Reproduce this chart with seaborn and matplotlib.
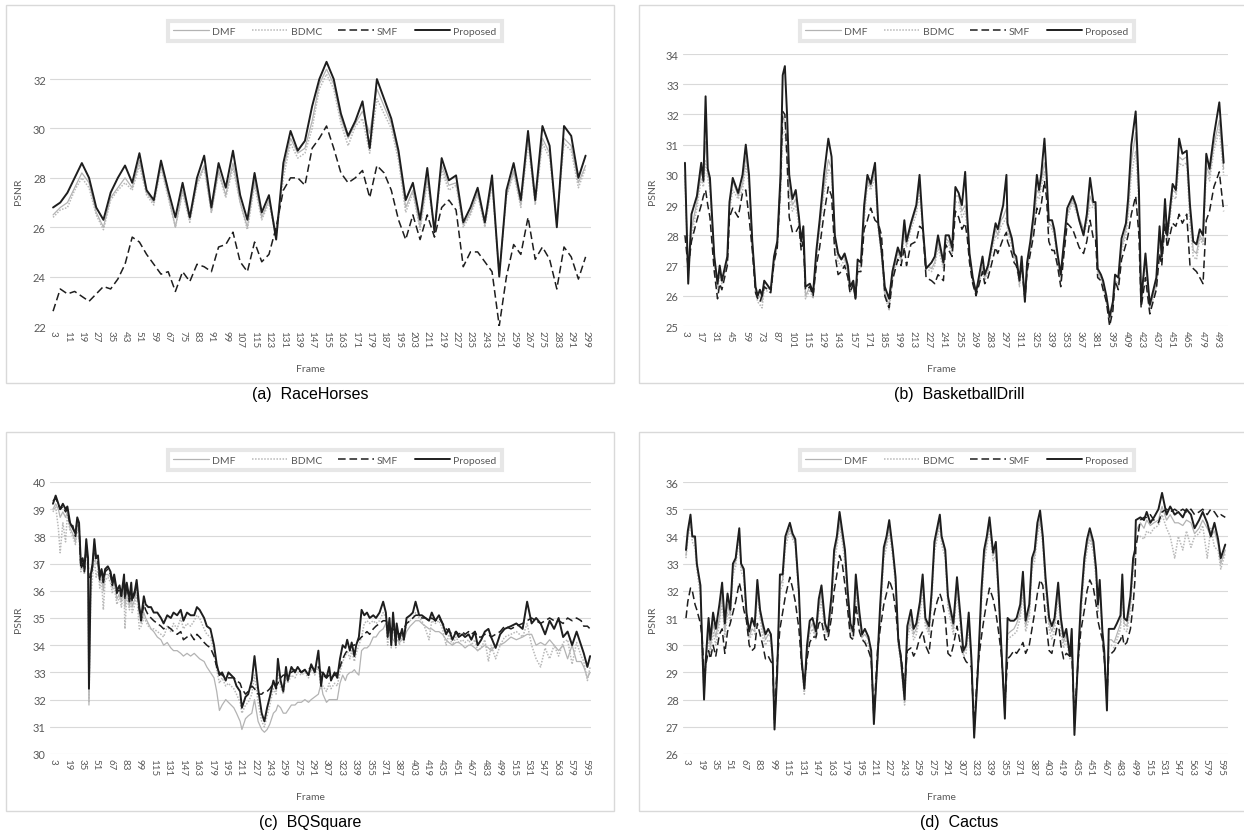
import matplotlib
matplotlib.use("Agg")
import matplotlib.pyplot as plt
import seaborn as sns
from matplotlib.patches import Rectangle
from matplotlib.lines import Line2D

# ---------------- data ----------------
series_names = ["DMF", "BDMC", "SMF", "Proposed"]

# (a) RaceHorses
frames_a = list(range(3, 300, 4))
proposed_a = [26.8, 27.0, 27.4, 28.0, 28.6, 28.0, 26.8, 26.3, 27.4, 28.0,
              28.5, 27.8, 29.0, 27.5, 27.1, 28.7, 27.5, 26.4, 27.8, 26.4,
              28.0, 28.9, 26.8, 28.6, 27.6, 29.1, 27.3, 26.3, 28.2, 26.6,
              27.3, 25.5, 28.6, 29.9, 29.1, 29.5, 30.9, 32.0, 32.7, 32.0,
              30.6, 29.7, 30.3, 31.1, 29.2, 32.0, 31.2, 30.4, 29.1, 27.1,
              27.8, 26.3, 28.4, 25.8, 28.8, 27.9, 28.1, 26.2, 26.8, 27.6,
              26.2, 28.1, 24.0, 27.5, 28.6, 27.1, 29.9, 27.1, 30.1, 29.3,
              26.0, 30.1, 29.7, 28.0, 28.9]
dmf_a = [26.5, 26.8, 27.0, 27.6, 28.2, 27.8, 26.6, 26.0, 27.2, 27.6,
         28.0, 27.6, 28.7, 27.4, 27.0, 28.5, 27.3, 26.0, 27.5, 26.3,
         27.8, 28.5, 26.6, 28.3, 27.3, 28.6, 27.0, 26.0, 27.9, 26.4,
         27.1, 25.8, 28.3, 29.6, 29.0, 29.2, 30.3, 31.8, 32.4, 31.8,
         30.4, 29.6, 30.2, 30.7, 29.8, 31.6, 30.9, 30.2, 28.9, 26.8,
         27.5, 26.0, 28.0, 26.0, 28.5, 27.7, 27.8, 26.1, 26.6, 27.4,
         26.1, 27.8, 24.2, 27.3, 28.3, 26.9, 29.6, 27.0, 29.6, 29.0,
         26.3, 29.6, 29.3, 27.8, 28.5]
bdmc_a = [26.4, 26.7, 26.8, 27.5, 28.0, 27.6, 26.5, 25.9, 27.1, 27.5,
          27.8, 27.5, 28.5, 27.3, 26.9, 28.4, 27.2, 26.0, 27.4, 26.2,
          27.7, 28.4, 26.6, 28.2, 27.2, 28.4, 27.0, 25.9, 27.7, 26.3,
          27.0, 25.6, 28.0, 29.4, 28.8, 29.0, 30.0, 31.6, 32.2, 31.6,
          30.2, 29.3, 30.1, 30.4, 29.0, 31.2, 30.6, 30.0, 28.7, 26.6,
          27.4, 25.9, 27.8, 25.9, 28.3, 27.5, 27.7, 26.0, 26.5, 27.3,
          26.0, 27.7, 24.1, 27.2, 28.2, 26.8, 29.4, 26.9, 29.4, 28.8,
          26.2, 29.4, 29.1, 27.6, 28.4]
smf_a = [22.6, 23.5, 23.3, 23.4, 23.2, 23.0, 23.3, 23.6, 23.5, 23.9,
         24.5, 25.6, 25.4, 24.9, 24.5, 24.1, 24.2, 23.4, 24.2, 23.8,
         24.5, 24.4, 24.2, 25.2, 25.3, 25.8, 24.6, 24.2, 25.4, 24.6,
         24.9, 26.0, 27.5, 28.0, 28.0, 27.7, 29.2, 29.6, 30.1, 29.2,
         28.2, 27.8, 28.0, 28.3, 27.2, 28.5, 28.2, 27.5, 26.3, 25.5,
         26.5, 25.5, 26.5, 25.6, 26.8, 27.1, 26.7, 24.4, 25.0, 25.0,
         24.6, 24.2, 22.0, 24.0, 25.3, 24.9, 26.4, 24.7, 25.2, 24.7,
         23.5, 25.2, 24.8, 23.9, 24.8]

# (b) BasketballDrill
frames_b = [3, 6, 9, 14, 18, 20, 22, 24, 26, 30,
            33, 35, 37, 42, 44, 47, 52, 56, 59, 62,
            65, 68, 70, 72, 74, 76, 82, 85, 88, 91,
            93, 95, 97, 99, 102, 105, 108, 110, 112, 114,
            118, 121, 124, 127, 131, 135, 138, 141, 144, 147,
            150, 153, 155, 158, 160, 162, 165, 168, 171, 174,
            178, 181, 184, 187, 191, 194, 199, 202, 205, 207,
            211, 216, 219, 222, 225, 230, 233, 236, 241, 243,
            246, 249, 252, 255, 258, 261, 263, 265, 268, 271,
            274, 277, 279, 282, 285, 289, 291, 294, 296, 299,
            300, 304, 306, 308, 311, 313, 316, 318, 321, 324,
            327, 329, 331, 334, 336, 338, 341, 343, 346, 349,
            352, 355, 360, 363, 366, 370, 373, 376, 379, 381,
            383, 386, 388, 391, 394, 397, 399, 402, 405, 409,
            411, 414, 418, 421, 423, 427, 431, 437, 440, 442,
            445, 447, 452, 455, 458, 461, 465, 468, 471, 474,
            477, 480, 483, 486, 490, 495, 499]
proposed_b = [30.4, 26.4, 28.7, 29.3, 30.4, 29.8, 32.6, 30.2, 29.9, 27.3,
              26.4, 27.0, 26.5, 27.3, 29.1, 29.9, 29.4, 30.0, 31.0, 30.0,
              27.8, 26.3, 26.0, 26.2, 26.0, 26.5, 26.2, 27.3, 27.8, 30.0,
              33.3, 33.6, 32.0, 30.0, 29.2, 29.5, 28.6, 27.8, 28.3, 26.3,
              26.4, 26.1, 27.5, 28.5, 30.0, 31.2, 30.6, 28.0, 27.4, 27.2,
              27.4, 27.0, 26.3, 26.5, 25.9, 27.2, 27.1, 29.0, 30.0, 29.7,
              30.4, 28.4, 27.5, 26.3, 25.9, 26.8, 27.6, 27.3, 28.5, 27.8,
              28.4, 29.0, 30.0, 28.3, 26.9, 27.1, 27.3, 28.0, 27.1, 28.0,
              28.0, 27.6, 29.6, 29.4, 29.0, 30.1, 28.6, 27.4, 26.6, 26.1,
              26.7, 27.3, 26.7, 27.0, 27.6, 28.4, 28.2, 28.7, 29.0, 30.0,
              28.4, 27.9, 27.4, 27.3, 26.5, 27.3, 25.8, 27.1, 27.8, 28.7,
              30.0, 29.5, 30.0, 31.2, 30.0, 28.5, 28.5, 28.2, 27.4, 26.7,
              27.8, 28.9, 29.3, 29.0, 28.5, 28.0, 28.7, 29.9, 29.1, 29.1,
              26.9, 26.7, 26.5, 26.0, 25.3, 25.8, 26.7, 26.6, 27.9, 28.4,
              29.2, 31.0, 32.1, 29.5, 25.8, 27.4, 25.7, 26.6, 28.3, 27.3,
              29.2, 28.0, 29.7, 29.5, 31.2, 30.7, 30.8, 29.0, 27.8, 27.7,
              28.2, 28.0, 30.7, 30.2, 31.3, 32.4, 30.4]
dmf_b = [30.0, 26.8, 28.2, 29.1, 30.1, 29.9, 31.1, 30.1, 29.7, 27.3,
         26.3, 26.8, 26.5, 27.2, 29.0, 29.8, 29.3, 29.7, 30.6, 29.9,
         27.8, 26.2, 25.9, 26.0, 25.8, 26.3, 26.2, 27.2, 27.7, 29.5,
         31.9, 31.8, 31.2, 29.6, 29.0, 29.2, 28.5, 27.8, 28.1, 26.0,
         26.3, 26.0, 27.4, 28.3, 29.6, 30.5, 30.2, 28.0, 27.3, 27.2,
         27.3, 26.8, 26.3, 26.4, 26.0, 27.0, 27.0, 28.7, 29.8, 29.6,
         30.1, 28.3, 27.4, 26.1, 25.7, 26.6, 27.5, 27.2, 28.2, 27.7,
         28.3, 28.9, 29.7, 28.3, 27.0, 26.9, 27.1, 27.8, 27.0, 27.9,
         27.8, 27.5, 29.3, 29.3, 28.8, 29.0, 28.4, 27.3, 26.5, 26.2,
         26.5, 27.0, 26.6, 26.9, 27.5, 28.2, 28.0, 28.5, 28.6, 28.9,
         28.3, 27.8, 27.3, 27.2, 26.4, 27.1, 26.0, 26.9, 27.6, 28.4,
         29.5, 29.4, 29.8, 30.4, 29.9, 28.4, 28.3, 28.1, 27.3, 26.6,
         27.6, 28.7, 29.2, 28.9, 28.6, 28.2, 28.5, 29.3, 29.0, 29.0,
         26.8, 26.6, 26.4, 25.9, 25.2, 25.7, 26.5, 26.4, 27.6, 28.2,
         28.8, 30.4, 31.4, 29.2, 26.0, 27.2, 25.6, 26.4, 28.0, 27.2,
         28.8, 27.9, 29.5, 29.4, 30.6, 30.5, 30.6, 28.8, 27.5, 27.4,
         28.0, 27.8, 30.3, 30.0, 31.0, 31.8, 30.2]
bdmc_b = [29.9, 26.7, 28.0, 28.9, 29.9, 29.6, 30.5, 29.9, 29.5, 27.2,
          26.2, 26.7, 26.4, 27.1, 28.8, 29.5, 29.2, 29.5, 30.3, 29.7,
          27.7, 26.1, 25.8, 25.7, 25.6, 26.2, 26.1, 27.1, 27.6, 29.3,
          31.5, 31.4, 30.6, 29.2, 28.8, 29.0, 28.3, 27.6, 28.0, 25.9,
          26.2, 25.9, 27.3, 28.2, 29.4, 30.2, 30.0, 27.8, 27.1, 27.0,
          27.2, 26.7, 26.1, 26.3, 25.9, 26.9, 26.9, 28.5, 29.7, 29.5,
          29.9, 28.2, 27.3, 26.0, 25.5, 26.5, 27.4, 27.1, 28.0, 27.6,
          28.2, 28.7, 29.4, 28.2, 26.9, 26.8, 27.0, 27.6, 26.9, 27.8,
          27.7, 27.4, 29.1, 29.1, 28.6, 28.8, 28.2, 27.2, 26.4, 26.1,
          26.4, 26.9, 26.5, 26.8, 27.4, 28.0, 27.9, 28.3, 28.4, 28.6,
          28.2, 27.6, 27.2, 27.1, 26.3, 27.0, 25.9, 26.8, 27.5, 28.2,
          29.3, 29.2, 29.6, 30.1, 29.7, 28.3, 28.2, 28.0, 27.2, 26.5,
          27.5, 28.6, 29.1, 28.8, 28.5, 28.0, 28.4, 29.0, 28.9, 28.9,
          26.7, 26.5, 26.3, 25.8, 25.1, 25.6, 26.4, 26.3, 27.5, 28.0,
          28.6, 30.0, 30.8, 29.0, 25.9, 27.0, 25.5, 26.3, 27.8, 27.1,
          28.6, 27.8, 29.3, 29.2, 30.4, 30.3, 30.4, 28.4, 27.3, 27.2,
          27.9, 27.7, 30.1, 29.8, 30.8, 31.5, 30.0]
smf_b = [28.0, 26.9, 27.8, 28.5, 29.0, 29.3, 29.5, 29.0, 28.6, 26.8,
         25.9, 26.4, 26.2, 27.0, 28.6, 28.9, 28.6, 29.4, 29.5, 28.6,
         27.5, 26.1, 25.9, 25.8, 26.0, 26.3, 26.1, 27.1, 27.6, 29.8,
         32.1, 32.0, 30.5, 28.6, 28.1, 28.1, 28.3, 27.5, 27.8, 26.2,
         26.3, 26.0, 27.0, 27.6, 28.7, 29.6, 29.3, 27.4, 26.7, 26.8,
         27.0, 26.6, 26.1, 26.4, 25.9, 26.8, 26.8, 28.2, 28.5, 28.9,
         28.5, 28.4, 28.0, 26.0, 25.6, 26.5, 27.2, 27.0, 27.6, 27.0,
         27.7, 27.8, 28.3, 28.2, 26.6, 26.5, 26.4, 26.7, 26.5, 27.7,
         27.5, 27.3, 28.8, 28.6, 28.2, 28.4, 27.9, 27.1, 26.4, 26.0,
         26.4, 26.8, 26.4, 26.6, 27.0, 27.6, 27.4, 27.7, 27.9, 28.1,
         27.8, 27.4, 27.1, 27.0, 26.6, 27.0, 25.9, 26.8, 27.4, 28.0,
         28.9, 28.7, 29.0, 29.8, 29.2, 27.8, 27.5, 27.5, 27.0, 26.3,
         27.4, 28.4, 28.2, 27.9, 27.6, 27.4, 27.8, 28.5, 27.9, 27.9,
         26.6, 26.5, 26.2, 25.8, 25.0, 25.5, 26.5, 26.2, 27.2, 27.7,
         28.0, 28.7, 29.3, 28.0, 25.6, 26.6, 25.4, 26.2, 27.4, 27.0,
         28.4, 27.6, 28.4, 28.3, 28.7, 28.4, 28.7, 27.0, 26.9, 26.8,
         26.6, 26.4, 28.5, 28.8, 29.6, 30.1, 28.8]

# (c) BQSquare
frames_c = [3, 6, 9, 11, 14, 17, 19, 22, 25, 28,
            30, 32, 34, 36, 38, 40, 42, 43, 45, 47,
            49, 51, 53, 55, 57, 59, 61, 64, 67, 69,
            71, 74, 77, 79, 82, 83, 85, 88, 90, 91,
            94, 96, 99, 101, 104, 106, 109, 112, 115, 119,
            123, 126, 130, 134, 137, 141, 145, 148, 152, 156,
            160, 163, 166, 171, 174, 178, 182, 185, 188, 191,
            195, 198, 204, 207, 211, 213, 217, 220, 224, 227,
            231, 235, 238, 241, 244, 248, 251, 253, 256, 259,
            262, 264, 268, 272, 275, 279, 283, 287, 290, 294,
            298, 301, 303, 307, 310, 312, 316, 319, 322, 325,
            328, 330, 333, 335, 338, 340, 343, 346, 349, 352,
            355, 359, 362, 366, 370, 373, 375, 377, 379, 381,
            384, 385, 388, 391, 393, 396, 400, 403, 406, 410,
            413, 417, 421, 424, 428, 432, 436, 440, 443, 447,
            451, 454, 458, 461, 465, 468, 472, 475, 479, 483,
            487, 490, 495, 500, 505, 512, 518, 525, 530, 535,
            540, 545, 550, 555, 560, 565, 570, 575, 580, 585,
            590, 593, 597, 600]
proposed_c = [39.2, 39.5, 39.2, 39.0, 39.2, 39.0, 39.1, 38.5, 38.3, 38.1,
              38.7, 38.5, 37.0, 37.2, 36.8, 37.9, 37.2, 32.4, 36.6, 37.0,
              37.9, 37.2, 37.3, 36.5, 36.8, 36.4, 36.8, 36.9, 36.7, 36.3,
              36.6, 36.0, 36.2, 35.8, 36.6, 35.8, 36.3, 35.7, 36.3, 35.7,
              36.0, 36.4, 35.4, 35.0, 35.8, 35.5, 35.4, 35.4, 35.2, 35.2,
              35.0, 34.8, 35.1, 35.0, 35.2, 35.1, 35.3, 34.9, 35.2, 35.1,
              35.1, 35.4, 35.3, 35.0, 34.7, 34.6, 34.0, 33.3, 32.9, 33.0,
              32.7, 33.0, 32.8, 32.5, 32.3, 31.7, 32.1, 32.2, 32.7, 33.6,
              32.4, 31.5, 31.2, 31.7, 32.1, 32.7, 32.4, 33.5, 32.7, 32.3,
              33.2, 32.7, 33.2, 33.0, 33.2, 33.0, 33.1, 32.9, 33.3, 33.0,
              33.8, 32.5, 33.0, 32.8, 33.2, 32.7, 33.0, 32.8, 33.5, 34.0,
              33.9, 34.2, 33.8, 34.1, 33.6, 34.0, 34.3, 35.3, 35.1, 35.2,
              35.0, 35.1, 35.0, 35.2, 35.6, 35.2, 34.3, 35.0, 34.0, 35.2,
              34.0, 34.8, 34.2, 34.6, 34.2, 35.0, 35.1, 35.2, 35.6, 35.1,
              35.1, 35.0, 34.9, 35.2, 34.9, 35.1, 34.8, 34.4, 34.6, 34.2,
              34.5, 34.3, 34.4, 34.3, 34.4, 34.2, 34.5, 34.0, 34.2, 34.5,
              34.6, 34.3, 33.9, 34.4, 34.6, 34.7, 34.8, 34.6, 35.6, 34.8,
              35.0, 34.8, 34.4, 34.9, 34.6, 35.0, 34.3, 34.5, 34.0, 34.5,
              34.0, 33.7, 33.2, 33.6]
dmf_c = [39.0, 39.2, 39.0, 38.7, 38.9, 38.7, 38.9, 38.3, 38.1, 37.8,
         38.4, 38.2, 36.9, 37.0, 36.7, 37.6, 37.0, 31.8, 36.4, 36.8,
         37.5, 37.0, 37.0, 36.3, 36.6, 36.0, 36.6, 36.6, 36.5, 36.1,
         36.4, 35.7, 35.9, 35.6, 36.2, 35.4, 36.0, 35.4, 35.9, 35.4,
         35.7, 36.0, 35.1, 34.8, 35.2, 35.0, 34.8, 34.6, 34.5, 34.3,
         34.2, 34.0, 34.1, 33.9, 33.8, 33.8, 33.7, 33.6, 33.7, 33.6,
         33.7, 33.6, 33.5, 33.4, 33.2, 33.0, 32.8, 32.3, 31.6, 31.8,
         32.0, 31.9, 31.7, 31.5, 31.2, 30.9, 31.3, 31.4, 31.5, 32.0,
         31.2, 30.9, 30.8, 30.9, 31.1, 31.5, 31.6, 31.8, 31.7, 31.5,
         31.5, 31.6, 31.8, 31.8, 31.9, 31.9, 32.0, 31.9, 32.0, 32.1,
         32.2, 32.6, 32.2, 31.9, 32.0, 32.0, 32.0, 32.0, 32.6, 32.9,
         32.7, 32.9, 33.0, 33.0, 33.1, 33.0, 32.9, 33.8, 33.9, 33.9,
         34.0, 34.3, 34.3, 34.5, 34.6, 34.8, 34.8, 34.7, 34.4, 34.2,
         34.1, 34.2, 34.1, 34.2, 34.2, 34.5, 34.7, 34.8, 34.9, 34.9,
         34.8, 34.7, 34.6, 34.6, 34.5, 34.5, 34.4, 34.2, 34.1, 34.0,
         34.1, 34.1, 34.0, 33.9, 34.0, 34.0, 33.9, 33.8, 33.9, 34.0,
         33.9, 33.8, 34.0, 34.0, 34.1, 34.3, 34.2, 34.3, 34.4, 34.4,
         34.0, 34.1, 34.0, 34.2, 34.0, 33.8, 34.0, 33.5, 34.0, 33.4,
         33.4, 33.2, 32.8, 33.0]
bdmc_c = [38.9, 39.1, 38.3, 37.4, 38.5, 37.8, 38.8, 38.2, 38.0, 37.7,
          38.3, 38.0, 36.7, 36.9, 36.6, 37.4, 36.8, 31.9, 35.8, 36.5,
          37.2, 36.5, 36.8, 36.1, 36.4, 35.3, 36.4, 36.5, 36.3, 35.9,
          36.2, 35.5, 35.8, 35.4, 36.0, 34.6, 35.8, 35.3, 35.7, 35.2,
          35.5, 35.9, 34.6, 34.7, 35.0, 34.9, 34.7, 34.6, 34.6, 34.5,
          34.4, 34.3, 34.7, 34.5, 34.8, 34.6, 35.0, 34.6, 34.8, 34.7,
          34.9, 35.1, 35.0, 34.6, 34.4, 34.3, 33.8, 33.1, 32.6, 32.8,
          32.5, 32.6, 32.4, 32.2, 31.9, 31.5, 31.8, 31.9, 32.2, 32.9,
          31.9, 31.2, 31.0, 31.4, 31.8, 32.4, 32.2, 33.0, 32.5, 32.2,
          32.9, 32.6, 32.9, 32.8, 33.0, 32.9, 33.0, 32.8, 33.1, 32.9,
          33.2, 32.4, 32.5, 32.3, 32.6, 32.4, 32.6, 32.5, 33.0, 33.4,
          33.6, 33.8, 33.5, 33.8, 33.4, 33.7, 34.0, 34.3, 34.8, 34.9,
          34.8, 34.9, 34.8, 34.9, 35.2, 35.0, 34.0, 34.8, 33.9, 34.9,
          33.9, 34.6, 34.0, 34.4, 34.1, 34.8, 34.9, 35.0, 35.2, 35.0,
          34.9, 34.6, 34.2, 34.9, 34.8, 34.9, 34.6, 34.0, 34.4, 34.0,
          34.3, 34.1, 34.2, 34.1, 34.2, 34.0, 34.2, 33.8, 33.9, 34.2,
          33.4, 34.0, 33.5, 34.0, 34.3, 34.4, 34.5, 34.3, 34.8, 34.0,
          33.5, 33.2, 33.9, 33.5, 34.0, 33.6, 34.1, 34.2, 33.3, 34.1,
          33.6, 33.4, 32.7, 33.2]
smf_c = [39.3, 39.4, 39.2, 39.0, 39.1, 38.9, 39.0, 38.4, 38.4, 38.0,
         38.6, 38.4, 36.8, 37.0, 36.7, 37.7, 37.0, 36.5, 36.5, 36.9,
         37.7, 37.1, 37.1, 36.4, 36.7, 36.3, 36.7, 36.8, 36.6, 36.2,
         36.5, 35.9, 36.1, 35.8, 36.4, 35.7, 36.2, 35.6, 36.1, 35.6,
         35.9, 36.2, 35.3, 34.9, 35.5, 35.3, 35.1, 35.0, 34.9, 34.8,
         34.7, 34.6, 34.7, 34.6, 34.5, 34.4, 34.5, 34.2, 34.3, 34.4,
         34.2, 34.4, 34.3, 34.1, 34.0, 33.9, 33.6, 33.2, 33.0, 32.9,
         32.8, 32.8, 32.8, 32.7, 32.6, 32.4, 32.2, 32.3, 32.5, 32.4,
         32.2, 32.2, 32.3, 32.3, 32.4, 32.6, 32.5, 32.6, 32.8, 32.9,
         32.9, 33.0, 33.0, 33.1, 33.1, 33.0, 33.1, 33.1, 33.2, 33.1,
         33.2, 33.0, 32.9, 32.8, 32.9, 32.8, 32.9, 33.0, 33.2, 33.5,
         33.7, 33.8, 33.9, 34.0, 34.0, 34.1, 34.2, 34.3, 34.4, 34.5,
         34.4, 34.6, 34.7, 34.8, 34.9, 34.9, 34.8, 34.7, 34.6, 34.6,
         34.5, 34.5, 34.4, 34.5, 34.6, 34.8, 34.9, 35.0, 35.1, 35.1,
         35.0, 35.0, 34.9, 35.0, 34.9, 35.0, 34.8, 34.6, 34.5, 34.4,
         34.5, 34.4, 34.5, 34.4, 34.5, 34.4, 34.5, 34.3, 34.3, 34.4,
         34.4, 34.3, 34.4, 34.5, 34.7, 34.6, 34.7, 34.8, 34.9, 35.0,
         34.9, 34.8, 34.9, 35.0, 34.9, 34.9, 34.8, 35.0, 34.9, 35.0,
         34.9, 34.7, 34.7, 34.6]

# (d) Cactus
frames_d = [3, 5, 8, 10, 13, 15, 19, 21, 23, 25,
            28, 30, 33, 36, 40, 43, 46, 49, 52, 55,
            58, 62, 64, 67, 70, 73, 76, 79, 82, 85,
            88, 91, 94, 97, 99, 101, 104, 107, 110, 113,
            118, 121, 124, 128, 131, 134, 137, 140, 143, 147,
            150, 153, 157, 160, 164, 167, 170, 173, 176, 179,
            182, 185, 188, 191, 195, 198, 201, 205, 208, 211,
            215, 218, 222, 225, 228, 232, 235, 238, 241, 245,
            248, 252, 255, 258, 262, 265, 268, 272, 275, 278,
            281, 284, 286, 290, 293, 296, 299, 303, 307, 310,
            313, 316, 319, 322, 326, 330, 333, 336, 339, 343,
            346, 349, 352, 356, 359, 362, 366, 369, 373, 376,
            379, 383, 386, 389, 392, 395, 398, 401, 405, 408,
            411, 415, 418, 421, 424, 428, 430, 433, 437, 440,
            444, 447, 450, 454, 457, 459, 461, 464, 466, 469,
            471, 474, 477, 480, 484, 486, 488, 491, 495, 498,
            500, 501, 506, 510, 513, 517, 521, 526, 530, 535,
            539, 544, 548, 553, 557, 562, 566, 571, 575, 580,
            584, 588, 592, 595, 600]
proposed_d = [33.5, 34.2, 34.8, 34.0, 34.0, 33.0, 32.2, 30.0, 28.0, 29.5,
              31.0, 30.2, 31.2, 30.6, 31.5, 32.3, 30.8, 31.9, 31.3, 33.0,
              33.2, 34.3, 33.0, 32.8, 31.2, 30.5, 31.0, 30.7, 32.4, 31.3,
              30.8, 30.4, 30.6, 30.4, 29.5, 26.9, 29.0, 32.6, 32.6, 34.0,
              34.5, 34.1, 33.9, 32.0, 29.5, 28.4, 30.0, 30.9, 31.0, 30.5,
              31.7, 32.2, 30.8, 30.5, 31.8, 33.5, 34.0, 34.9, 34.2, 33.5,
              32.0, 30.8, 30.5, 32.6, 31.2, 30.4, 30.6, 30.3, 29.8, 27.1,
              29.5, 31.5, 33.6, 34.0, 34.6, 33.5, 32.5, 30.2, 29.5, 28.0,
              30.7, 31.3, 30.6, 30.8, 31.6, 32.6, 31.0, 30.7, 32.0, 33.8,
              34.3, 34.8, 34.0, 33.5, 31.8, 31.3, 30.8, 32.5, 31.0, 29.8,
              30.0, 31.2, 29.5, 26.6, 29.0, 32.0, 33.5, 34.0, 34.7, 33.4,
              33.8, 32.0, 30.0, 27.3, 31.0, 30.9, 30.9, 31.0, 31.5, 32.7,
              30.9, 31.5, 33.2, 33.5, 34.5, 34.95, 34.0, 32.5, 31.0, 30.7,
              31.0, 32.3, 31.0, 30.3, 30.6, 29.6, 30.6, 26.7, 29.5, 31.5,
              33.2, 33.9, 34.3, 33.8, 32.8, 31.5, 32.4, 30.5, 29.8, 27.6,
              30.6, 30.6, 30.6, 30.8, 31.1, 32.6, 31.0, 30.9, 31.8, 33.2,
              33.5, 34.6, 34.7, 34.6, 34.9, 34.5, 34.7, 35.0, 35.6, 34.8,
              35.1, 34.8, 34.9, 34.7, 35.0, 34.8, 34.3, 34.6, 34.9, 34.5,
              34.0, 34.5, 33.9, 33.2, 33.7]
dmf_d = [33.3, 34.0, 34.6, 34.0, 33.9, 33.0, 32.0, 29.8, 28.2, 29.3,
         30.5, 29.9, 30.8, 30.3, 31.0, 31.9, 30.5, 31.5, 31.1, 32.8,
         33.1, 34.2, 32.9, 32.7, 31.0, 30.3, 30.6, 30.5, 32.1, 31.2,
         30.6, 30.2, 30.4, 30.3, 29.4, 27.0, 29.2, 32.2, 32.4, 33.8,
         34.3, 34.0, 33.8, 31.9, 29.5, 28.3, 29.8, 30.6, 30.8, 30.3,
         31.4, 31.9, 30.6, 30.4, 31.5, 33.3, 33.8, 34.6, 34.0, 33.3,
         31.8, 30.6, 30.4, 32.2, 31.0, 30.3, 30.4, 30.2, 29.7, 27.2,
         29.4, 31.2, 33.4, 33.8, 34.4, 33.4, 32.4, 30.2, 29.4, 27.9,
         30.4, 31.0, 30.4, 30.6, 31.4, 32.3, 30.9, 30.5, 31.8, 33.6,
         34.1, 34.6, 33.9, 33.4, 31.6, 31.1, 30.6, 32.2, 30.8, 29.7,
         29.9, 30.8, 29.4, 26.8, 29.0, 31.7, 33.2, 33.8, 34.5, 33.3,
         33.5, 31.9, 30.0, 27.5, 30.4, 30.5, 30.6, 30.8, 31.2, 32.3,
         30.7, 31.2, 33.0, 33.3, 34.2, 34.7, 33.9, 32.3, 30.8, 30.5,
         30.8, 32.0, 30.8, 30.1, 30.4, 29.7, 30.5, 27.0, 29.4, 31.2,
         33.0, 33.7, 34.1, 33.6, 32.6, 31.4, 32.2, 30.4, 29.7, 27.8,
         30.2, 30.2, 30.1, 30.4, 30.8, 32.2, 30.8, 30.7, 31.5, 33.0,
         33.3, 34.2, 34.5, 34.3, 34.6, 34.4, 34.5, 34.6, 35.1, 34.6,
         34.8, 34.5, 34.5, 34.4, 34.6, 34.5, 34.1, 34.3, 34.6, 34.3,
         34.0, 34.2, 33.7, 33.0, 33.5]
bdmc_d = [33.2, 33.9, 34.5, 33.8, 33.6, 32.8, 31.8, 29.6, 28.3, 29.2,
          30.2, 29.7, 30.5, 30.0, 30.8, 31.6, 30.3, 31.2, 30.9, 32.6,
          32.9, 34.0, 32.7, 32.5, 30.8, 30.2, 30.4, 30.4, 31.9, 31.0,
          30.3, 30.0, 30.2, 30.1, 29.3, 27.1, 29.1, 32.0, 32.2, 33.6,
          34.2, 33.9, 33.7, 31.7, 29.3, 28.2, 29.6, 30.4, 30.6, 30.2,
          31.2, 31.6, 30.4, 30.3, 31.3, 33.0, 33.6, 34.4, 33.8, 33.0,
          31.6, 30.4, 30.2, 32.0, 30.8, 30.2, 30.2, 30.0, 29.6, 27.3,
          29.3, 31.0, 33.2, 33.6, 34.2, 33.2, 32.2, 30.0, 29.3, 27.8,
          30.2, 30.8, 30.2, 30.4, 31.1, 32.0, 30.7, 30.4, 31.6, 33.4,
          33.9, 34.4, 33.7, 33.2, 31.4, 30.9, 30.4, 32.0, 30.6, 29.6,
          29.7, 30.6, 29.3, 26.9, 28.9, 31.5, 33.0, 33.6, 34.3, 33.1,
          33.3, 31.7, 29.8, 27.6, 30.2, 30.3, 30.4, 30.5, 31.0, 32.0,
          30.5, 31.0, 32.8, 33.1, 34.0, 34.5, 33.7, 32.1, 30.6, 30.2,
          30.6, 31.8, 30.5, 29.9, 30.2, 29.5, 30.3, 27.1, 29.3, 31.0,
          32.8, 33.5, 33.9, 33.4, 32.4, 31.2, 32.0, 30.3, 29.6, 27.9,
          30.0, 30.0, 29.9, 30.2, 30.6, 31.9, 30.6, 30.5, 31.3, 32.8,
          33.2, 34.0, 34.0, 33.9, 34.2, 34.1, 34.3, 34.4, 34.8, 34.3,
          34.0, 33.2, 34.0, 33.5, 34.2, 33.6, 34.0, 34.1, 34.4, 33.2,
          34.3, 33.6, 33.5, 32.8, 33.4]
smf_d = [31.0, 31.6, 32.1, 32.0, 31.5, 31.3, 30.8, 30.2, 29.0, 29.3,
         29.8, 29.5, 30.0, 29.6, 30.4, 30.6, 29.7, 30.5, 30.8, 31.2,
         31.6, 32.3, 32.0, 31.3, 30.9, 30.0, 29.8, 29.9, 30.8, 30.4,
         30.0, 29.5, 29.6, 29.4, 29.3, 27.2, 29.4, 30.6, 31.2, 31.8,
         32.5, 32.1, 31.6, 30.6, 29.3, 28.6, 29.5, 30.1, 30.3, 30.3,
         30.8, 30.9, 30.2, 30.2, 31.0, 32.0, 32.6, 33.3, 33.0, 32.2,
         31.3, 30.3, 30.2, 31.5, 30.5, 30.2, 30.1, 29.8, 29.5, 27.4,
         29.8, 30.6, 31.5, 31.9, 32.4, 32.0, 31.3, 30.3, 29.6, 28.5,
         29.8, 29.9, 29.6, 29.8, 30.3, 30.5, 30.0, 29.7, 30.6, 31.2,
         31.6, 31.9, 31.7, 31.0, 29.7, 29.6, 30.0, 30.7, 30.0, 29.6,
         29.4, 29.3, 29.2, 27.0, 29.2, 30.3, 31.0, 31.6, 32.1, 31.7,
         31.2, 30.5, 29.7, 27.8, 29.5, 29.6, 29.8, 29.7, 29.9, 30.1,
         29.7, 30.0, 30.6, 31.2, 31.9, 32.4, 32.2, 31.0, 29.8, 29.7,
         30.2, 30.9, 30.0, 29.5, 29.7, 29.6, 29.8, 27.3, 29.4, 30.5,
         31.3, 32.0, 32.4, 32.1, 31.5, 30.9, 30.6, 30.2, 29.5, 28.2,
         29.6, 29.7, 29.8, 30.0, 30.2, 30.4, 30.0, 30.1, 30.6, 31.5,
         32.4, 33.6, 34.6, 34.7, 34.7, 34.8, 34.6, 34.5, 34.9, 35.0,
         34.9, 35.0, 34.9, 35.0, 34.9, 35.0, 34.8, 34.9, 35.0, 34.8,
         35.0, 34.9, 34.7, 34.8, 34.7]

# tick labels
xticks_a = list(range(3, 300, 8))
xticks_b = list(range(3, 500, 14))
xticks_cd = list(range(3, 600, 16))
captions = ["(a)  RaceHorses", "(b)  BasketballDrill", "(c)  BQSquare", "(d)  Cactus"]

# ---------------- layout / style ----------------
sns.set_theme(style="white")
plt.rcParams["font.family"] = ["Lato", "DejaVu Sans"]

W, H = 1244, 837
fig = plt.figure(figsize=(W / 100, H / 100), dpi=100)
fig.patch.set_facecolor("white")

GREY_TXT = "#595959"
STYLES = {
    "DMF": dict(color="#b3b3b3", linewidth=0.9, linestyle="-"),
    "BDMC": dict(color="#b8b8b8", linewidth=1.1, linestyle=(0, (1, 1))),
    "SMF": dict(color="#1e1e1e", linewidth=1.1, linestyle=(0, (5, 2.5))),
    "Proposed": dict(color="#1e1e1e", linewidth=1.4, linestyle="-"),
}


def frac_rect(x0, y0, x1, y1):
    return [x0 / W, 1 - y1 / H, (x1 - x0) / W, (y1 - y0) / H]


panels = [
    dict(frames=frames_a, data=[dmf_a, bdmc_a, smf_a, proposed_a],
         box=(6, 6, 614, 384), axes=(50, 48, 591, 327), ylim=(22, 33.3),
         yticks=list(range(22, 33, 2)), xlim=(1.3, 302), xticks=xticks_a,
         legend=(335, 32), psnr=(19, 192), frame=(310, 370), caption=(310, 395)),
    dict(frames=frames_b, data=[dmf_b, bdmc_b, smf_b, proposed_b],
         box=(639, 6, 1250, 384), axes=(683, 55, 1228, 327), ylim=(25, 34),
         yticks=list(range(25, 35)), xlim=(1.2, 503), xticks=xticks_b,
         legend=(967, 32), psnr=(653, 192), frame=(941, 370), caption=(959, 395)),
    dict(frames=frames_c, data=[dmf_c, bdmc_c, smf_c, proposed_c],
         box=(6, 433, 614, 812), axes=(50, 483, 591, 755), ylim=(30, 40),
         yticks=list(range(30, 41)), xlim=(-0.3, 601), xticks=xticks_cd,
         legend=(335, 461), psnr=(19, 620), frame=(310, 798), caption=(310, 823)),
    dict(frames=frames_d, data=[dmf_d, bdmc_d, smf_d, proposed_d],
         box=(639, 433, 1250, 812), axes=(683, 483, 1228, 755), ylim=(26, 36),
         yticks=list(range(26, 37)), xlim=(-0.3, 603), xticks=xticks_cd,
         legend=(967, 461), psnr=(653, 620), frame=(941, 798), caption=(959, 823)),
]

handles = [Line2D([0], [0], **STYLES[n]) for n in series_names]

for p, cap in zip(panels, captions):
    for vals in p["data"]:
        if len(vals) != len(p["frames"]):
            raise ValueError(f"{cap}: length {len(vals)} vs {len(p['frames'])}")
    bx0, by0, bx1, by1 = p["box"]
    fig.add_artist(Rectangle((bx0 / W, 1 - by1 / H), (bx1 - bx0) / W, (by1 - by0) / H,
                             transform=fig.transFigure, fill=False,
                             edgecolor="#d9d9d9", linewidth=1.0))
    ax = fig.add_axes(frac_rect(*p["axes"]))
    ax.set_facecolor("none")
    for name, vals in zip(series_names, p["data"]):
        sns.lineplot(x=p["frames"], y=vals, ax=ax, sort=False, estimator=None,
                     legend=False, **STYLES[name])
    ax.set_xlim(*p["xlim"])
    ax.set_ylim(*p["ylim"])
    ax.set_yticks(p["yticks"])
    ax.set_yticklabels([str(v) for v in p["yticks"]], fontsize=8, color=GREY_TXT)
    ax.set_xticks(p["xticks"])
    ax.set_xticklabels([str(v) for v in p["xticks"]], rotation=270,
                       fontsize=7, color=GREY_TXT)
    ax.tick_params(axis="both", length=0, pad=3)
    ax.grid(axis="y", color="#d9d9d9", linewidth=0.8)
    ax.grid(axis="x", visible=False)
    ax.set_axisbelow(True)
    for s in ax.spines.values():
        s.set_visible(False)
    ax.set_xlabel("")
    ax.set_ylabel("")

    leg = ax.legend(handles, series_names, loc="center",
                    bbox_to_anchor=(p["legend"][0] / W, 1 - p["legend"][1] / H),
                    bbox_transform=fig.transFigure, ncol=4, fontsize=7.5,
                    handlelength=3.4, columnspacing=1.6, handletextpad=0.3,
                    borderpad=0.55, frameon=True, fancybox=False, labelcolor=GREY_TXT)
    leg.get_frame().set_edgecolor("#e2e2e2")
    leg.get_frame().set_linewidth(3)
    leg.get_frame().set_facecolor("white")

    fig.text(p["psnr"][0] / W, 1 - p["psnr"][1] / H, "PSNR", rotation=90,
             ha="center", va="center", fontsize=7.5, color=GREY_TXT)
    fig.text(p["frame"][0] / W, 1 - p["frame"][1] / H, "Frame",
             ha="center", va="center", fontsize=7.5, color=GREY_TXT)
    fig.text(p["caption"][0] / W, 1 - p["caption"][1] / H, cap,
             ha="center", va="center", fontsize=11.5, color="black",
             family=["Liberation Sans", "DejaVu Sans"])

fig.savefig("out.png", dpi=100, facecolor="white")
